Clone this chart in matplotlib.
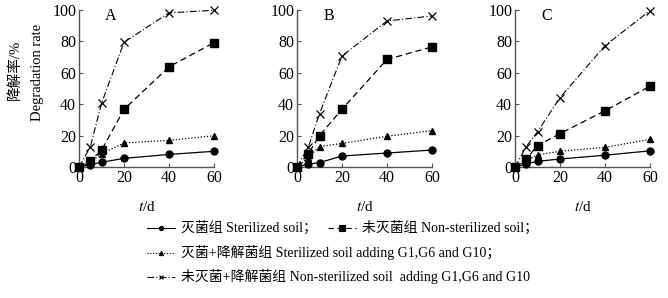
import matplotlib
matplotlib.use("Agg")
import matplotlib.pyplot as plt
from matplotlib.lines import Line2D

plt.rcParams['font.family'] = ['Liberation Serif', 'Noto Sans CJK SC']
plt.rcParams['mathtext.fontset'] = 'stix'

days = [0, 5, 10, 20, 40, 60]
panel_labels = ["A", "B", "C"]

sterilized = [
    [0, 1.5, 3, 5.5, 8, 10],
    [0, 1.8, 2.8, 7, 8.9, 10.8],
    [0, 2, 3.6, 5.1, 7.5, 10.3],
]
non_sterilized = [
    [0, 4, 10.6, 36.7, 63.8, 79.2],
    [0, 8.3, 20, 36.8, 68.5, 76.5],
    [0, 5.1, 13.6, 21.3, 35.8, 51.5],
]
sterilized_g = [
    [0, 3, 8.5, 15.3, 17, 19.9],
    [0, 6, 13, 15, 19.6, 23.2],
    [0, 4, 7.7, 10, 12.5, 17.6],
]
non_sterilized_g = [
    [0, 12.7, 40.5, 79.4, 98.2, 99.8],
    [0, 12.6, 34, 70.7, 93, 96.2],
    [0, 13, 22.4, 44.2, 77.3, 99.6],
]

legend_labels = [
    "灭菌组 Sterilized soil；",
    "未灭菌组 Non-sterilized soil；",
    "灭菌+降解菌组 Sterilized soil adding G1,G6 and G10；",
    "未灭菌+降解菌组 Non-sterilized soil  adding G1,G6 and G10",
]
y_ticks = [0, 20, 40, 60, 80, 100]
x_ticks = [0, 20, 40, 60]

series = [sterilized, non_sterilized, sterilized_g, non_sterilized_g]
styles = [
    dict(marker='o', linestyle='-', markersize=5, lw=0.9),
    dict(marker='s', linestyle=(0, (5, 3)), markersize=6.3, lw=0.9),
    dict(marker='^', linestyle=(0, (1, 1.5)), markersize=5, lw=0.9),
    dict(marker='x', linestyle=(0, (6, 2, 1, 2)), markersize=5.5, lw=0.8, mew=0.9),
]

W, H = 668, 298
fig = plt.figure(figsize=(W / 100, H / 100), dpi=100)

lefts = [79, 297, 515]
for i, lx in enumerate(lefts):
    ax = fig.add_axes([lx / W, (H - 167) / H, 135 / W, 157 / H])
    for s, st in zip(series, styles):
        ax.plot(days, s[i], color='black', clip_on=False, zorder=3, **st)
    ax.set_xlim(0, 60)
    ax.set_ylim(0, 100)
    ax.set_xticks(x_ticks)
    ax.set_yticks(y_ticks)
    for sp in ['top', 'right']:
        ax.spines[sp].set_visible(False)
    for sp in ['left', 'bottom']:
        ax.spines[sp].set_color('#555555')
        ax.spines[sp].set_linewidth(1.0)
    ax.tick_params(direction='in', length=3, width=0.8, color='#555555',
                   labelsize=11.5, pad=2)
    ax.text(14, 96, panel_labels[i], ha='center', va='center', fontsize=11.5)
    ax.set_xlabel(r"$t$/d", fontsize=11, labelpad=10)

fig.text(15 / W, 1 - 70 / H, "降解率/%", rotation=90, ha='center', va='center', fontsize=10.5)
fig.text(37 / W, 1 - 72 / H, "Degradation rate", rotation=90, ha='center', va='center', fontsize=10.5)

# legend
def handle(x0, y, st):
    x1 = x0 + 28
    ln = Line2D([x0 / W, x1 / W], [1 - y / H, 1 - y / H], transform=fig.transFigure,
                color='black', linestyle=st['linestyle'], lw=0.8)
    fig.add_artist(ln)
    mk = Line2D([(x0 + x1) / 2 / W], [1 - y / H], transform=fig.transFigure,
                color='black', marker=st['marker'], markersize=st['markersize'] * 0.6,
                linestyle='none', mew=0.8)
    fig.add_artist(mk)

entries = [(147, 228, 0), (328, 228, 1), (147, 253, 2), (147, 277, 3)]
for x0, y, k in entries:
    handle(x0, y, styles[k])
    fig.text((x0 + 34) / W, 1 - y / H, legend_labels[k], ha='left', va='center', fontsize=10)

fig.savefig("out.png", dpi=100)
